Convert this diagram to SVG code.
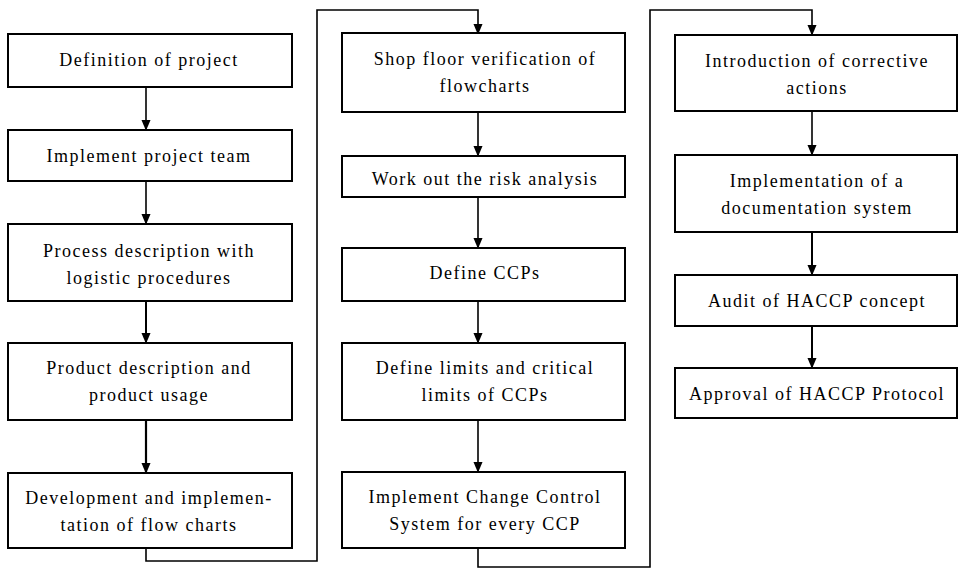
<svg xmlns="http://www.w3.org/2000/svg" width="962" height="572" viewBox="0 0 962 572">
<defs>
<marker id="arr" markerWidth="11" markerHeight="13" refX="11" refY="5.5" orient="auto" markerUnits="userSpaceOnUse" viewBox="0 0 13 11">
<path d="M0,0 L13,5.5 L0,11 Z" fill="#000"/>
</marker>
</defs>
<style>
rect.b{fill:#fff;stroke:#000;stroke-width:2}
text{font-family:"Liberation Serif","Times New Roman",serif;font-size:18px;letter-spacing:1.5px;fill:#000;text-anchor:middle}
.c path{fill:none;stroke:#000;stroke-width:1.6}
</style>
<rect width="962" height="572" fill="#fff"/>
<g class="c" id="connectors">
<path d="M146,87 V129" marker-end="url(#arr)"/>
<path d="M146,181 V223" marker-end="url(#arr)"/>
<path d="M146,301 V342" marker-end="url(#arr)" style="stroke-width:2"/>
<path d="M146,420 V472" marker-end="url(#arr)" style="stroke-width:2.2"/>
<path d="M146,548 V561 H317 V10 H478 V33" marker-end="url(#arr)"/>
<path d="M478,112 V155" marker-end="url(#arr)"/>
<path d="M478,197 V247" marker-end="url(#arr)"/>
<path d="M478,301 V342" marker-end="url(#arr)"/>
<path d="M478,420 V471" marker-end="url(#arr)"/>
<path d="M478,548 V567 H650 V10 H812 V34" marker-end="url(#arr)"/>
<path d="M812,111 V154" marker-end="url(#arr)"/>
<path d="M812,232 V274" marker-end="url(#arr)" style="stroke-width:2"/>
<path d="M812,326 V367" marker-end="url(#arr)" style="stroke-width:2"/>
</g>
<g id="n1"><rect class="b" x="8" y="34" width="284" height="53"/><text x="149" y="66">Definition of project</text></g>
<g id="n2"><rect class="b" x="8" y="130" width="284" height="51"/><text x="149" y="162">Implement project team</text></g>
<g id="n3"><rect class="b" x="8" y="224" width="284" height="77"/><text x="149" y="257">Process description with</text><text x="149" y="284">logistic procedures</text></g>
<g id="n4"><rect class="b" x="8" y="343" width="284" height="77"/><text x="149" y="374">Product description and</text><text x="149" y="401">product usage</text></g>
<g id="n5"><rect class="b" x="8" y="473" width="284" height="75"/><text x="149" y="504">Development and implemen-</text><text x="149" y="531">tation of flow charts</text></g>
<g id="n6"><rect class="b" x="342" y="33" width="283" height="79"/><text x="485" y="65">Shop floor verification of</text><text x="485" y="92">flowcharts</text></g>
<g id="n7"><rect class="b" x="342" y="156" width="283" height="41"/><text x="485" y="185">Work out the risk analysis</text></g>
<g id="n8"><rect class="b" x="342" y="248" width="283" height="53"/><text x="485" y="279">Define CCPs</text></g>
<g id="n9"><rect class="b" x="342" y="343" width="283" height="77"/><text x="485" y="374">Define limits and critical</text><text x="485" y="401">limits of CCPs</text></g>
<g id="n10"><rect class="b" x="342" y="472" width="283" height="76"/><text x="485" y="503">Implement Change Control</text><text x="485" y="530">System for every CCP</text></g>
<g id="n11"><rect class="b" x="675" y="35" width="282" height="76"/><text x="817" y="67">Introduction of corrective</text><text x="817" y="94">actions</text></g>
<g id="n12"><rect class="b" x="675" y="155" width="282" height="77"/><text x="817" y="187">Implementation of a</text><text x="817" y="214">documentation system</text></g>
<g id="n13"><rect class="b" x="675" y="275" width="282" height="51"/><text x="817" y="307">Audit of HACCP concept</text></g>
<g id="n14"><rect class="b" x="675" y="368" width="282" height="50"/><text x="817" y="400">Approval of HACCP Protocol</text></g>
</svg>
